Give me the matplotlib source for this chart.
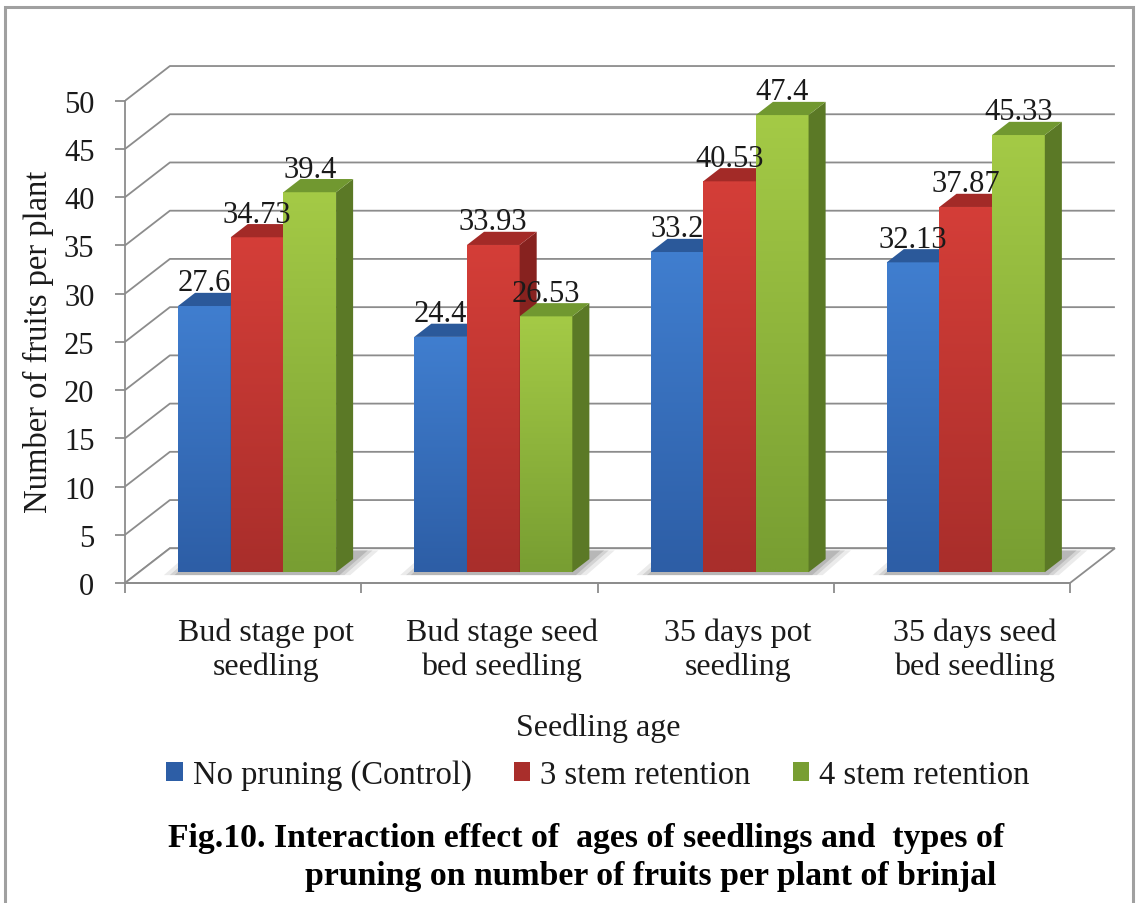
import matplotlib.pyplot as plt
import numpy as np
from matplotlib.patches import Polygon, Rectangle, Patch

plt.rcParams['font.family'] = ['Liberation Serif', 'DejaVu Serif']

# Fruits per plant for each seedling age / pruning combination
categories = ['Bud stage pot\nseedling', 'Bud stage seed\nbed seedling',
              '35 days pot\nseedling', '35 days seed\nbed seedling']
series_names = ['No pruning (Control)', '3 stem retention', '4 stem retention']
no_pruning = [27.6, 24.4, 33.2, 32.13]
stem3 = [34.73, 33.93, 40.53, 37.87]
stem4 = [39.4, 26.53, 47.4, 45.33]
series = [no_pruning, stem3, stem4]

# colours: front top, front bottom, side, top face
face_cols = [
    ('#407ecf', '#2d5ea6', '#244b85', '#2b599a'),
    ('#d43e38', '#a92e2b', '#87221f', '#a32a27'),
    ('#a4ca46', '#789e32', '#5b7926', '#719830'),
]

# fake 3D box: how far the back wall sits (data units)
dx, dy = 0.19, 3.6
z0, z1 = 0.31, 0.69          # bar depth range inside the box
bw = 0.223                   # bar width
grid_col = '#8c8c8c'
txt_col = '#1a1a1a'

fig = plt.figure(figsize=(11.41, 9.04), dpi=100)
ax = fig.add_axes([125 / 1141, 304 / 904, 1000 / 1141, 545 / 904])
n = len(categories)

# back wall gridlines with their diagonal run-in from the front axis
yt = np.arange(0, 51, 5)
for v in yt:
    ax.plot([0, dx, n + dx], [v, v + dy, v + dy], color=grid_col, lw=1.3, zorder=1,
            solid_capstyle='butt')

# floor
floor = Polygon([(0, 0), (n, 0), (n + dx, dy), (dx, dy)], closed=True,
                facecolor='white', edgecolor=grid_col, lw=1.3, zorder=1.5)
ax.add_patch(floor)

xc = np.arange(n) + 0.5
offs = [-bw, 0, bw]

# soft shadows on the floor round each group
for g in range(n):
    left = xc[g] - 1.5 * bw + z0 * dx
    right = xc[g] + 1.5 * bw + z0 * dx
    for grow, a in [(0.06, 0.08), (0.035, 0.10), (0.015, 0.13)]:
        sh = Polygon([(left - grow, z0 * dy - 0.3),
                      (right + grow, z0 * dy - 0.3),
                      (right + grow + (z1 - z0 + 0.25) * dx, (z1 + 0.25) * dy),
                      (left - grow + (z1 - z0 + 0.25) * dx, (z1 + 0.25) * dy)],
                     closed=True, facecolor='black', edgecolor='none', alpha=a,
                     zorder=1.6)
        ax.add_patch(sh)

ddx, ddy = (z1 - z0) * dx, (z1 - z0) * dy
for k, vals in enumerate(series):
    top_c, bot_c, side_c, cap_c = face_cols[k]
    bars = ax.bar(xc + offs[k] + z0 * dx, vals, width=bw, bottom=z0 * dy,
                  color=bot_c, linewidth=0, zorder=3)
    grad = np.linspace(0, 1, 64)[:, None, None]
    c0 = np.array(plt.matplotlib.colors.to_rgb(bot_c))
    c1 = np.array(plt.matplotlib.colors.to_rgb(top_c))
    img = c0 + (c1 - c0) * grad
    for g, rect in enumerate(bars):
        order = 3 + (g * 3 + k) * 0.1
        rect.set_zorder(order)
        x, y = rect.get_xy()
        w, h = rect.get_width(), rect.get_height()
        im = ax.imshow(img, extent=(x, x + w, y, y + h), origin='lower',
                       aspect='auto', interpolation='bilinear', zorder=order + 0.01)
        im.set_clip_path(rect)
        side = Polygon([(x + w, y), (x + w + ddx, y + ddy), (x + w + ddx, y + h + ddy),
                        (x + w, y + h)], closed=True, facecolor=side_c,
                       edgecolor='none', zorder=order + 0.02)
        ax.add_patch(side)
        cap = Polygon([(x, y + h), (x + w, y + h), (x + w + ddx, y + h + ddy),
                       (x + ddx, y + h + ddy)], closed=True, facecolor=cap_c,
                      edgecolor='none', zorder=order + 0.03)
        ax.add_patch(cap)
        ax.text(x + w / 2, vals[g] + z0 * dy + 2.4, f'{vals[g]:g}', ha='center',
                va='center', fontsize=22, color=txt_col, zorder=10)

ax.set_xlim(0, 1000 / 236.25)
ax.set_ylim(-16 / 9.645, 529 / 9.645)

for s in ['top', 'right']:
    ax.spines[s].set_visible(False)
ax.spines['left'].set_bounds(0, 50)
ax.spines['bottom'].set_position(('data', 0))
ax.spines['bottom'].set_bounds(0, n)
for s in ['left', 'bottom']:
    ax.spines[s].set_color(grid_col)
    ax.spines[s].set_linewidth(1.3)
    ax.spines[s].set_zorder(2)

ax.set_yticks(yt)
ax.tick_params(axis='y', direction='out', length=7, width=1.3, color=grid_col,
               pad=15, labelsize=22, labelcolor=txt_col)
ax.set_xticks(np.arange(n + 1), labels=[])
ax.set_xticks(xc + dx / 2, labels=categories, minor=True)
ax.tick_params(axis='x', which='major', direction='out', length=7, width=1.3,
               color=grid_col)
ax.tick_params(axis='x', which='minor', length=0, pad=25, labelsize=23,
               labelcolor=txt_col)
for lab in ax.get_xticklabels(minor=True):
    lab.set_linespacing(1.2)

ax.set_xlabel('Seedling age', fontsize=23, color=txt_col)
ax.xaxis.set_label_coords(0.473, -0.209)
ax.set_ylabel('Number of fruits per plant', fontsize=23.5, color=txt_col)
ax.yaxis.set_label_coords(-0.071, 0.473)

handles = [Patch(facecolor=face_cols[k][1], edgecolor='none') for k in range(3)]
fig.legend(handles, series_names, loc='center', bbox_to_anchor=(0.524, 0.1415),
           ncol=3, frameon=False, fontsize=23.5, handlelength=0.5, handleheight=0.5,
           handletextpad=0.3, columnspacing=1.3, labelcolor=txt_col)

fig.text(168 / 1141, 1 - 838 / 904,
         'Fig.10. Interaction effect of  ages of seedlings and  types of',
         fontsize=24.3, fontweight='bold', ha='left', va='center')
fig.text(305 / 1141, 1 - 877 / 904,
         'pruning on number of fruits per plant of brinjal',
         fontsize=24.3, fontweight='bold', ha='left', va='center')

# outer frame
fig.add_artist(Rectangle((5 / 1141, -0.1), 1128 / 1141, 896 / 904 + 0.1,
                         transform=fig.transFigure, fill=False,
                         edgecolor='#a0a0a0', linewidth=2.2))

fig.savefig('out.png', dpi=100)
